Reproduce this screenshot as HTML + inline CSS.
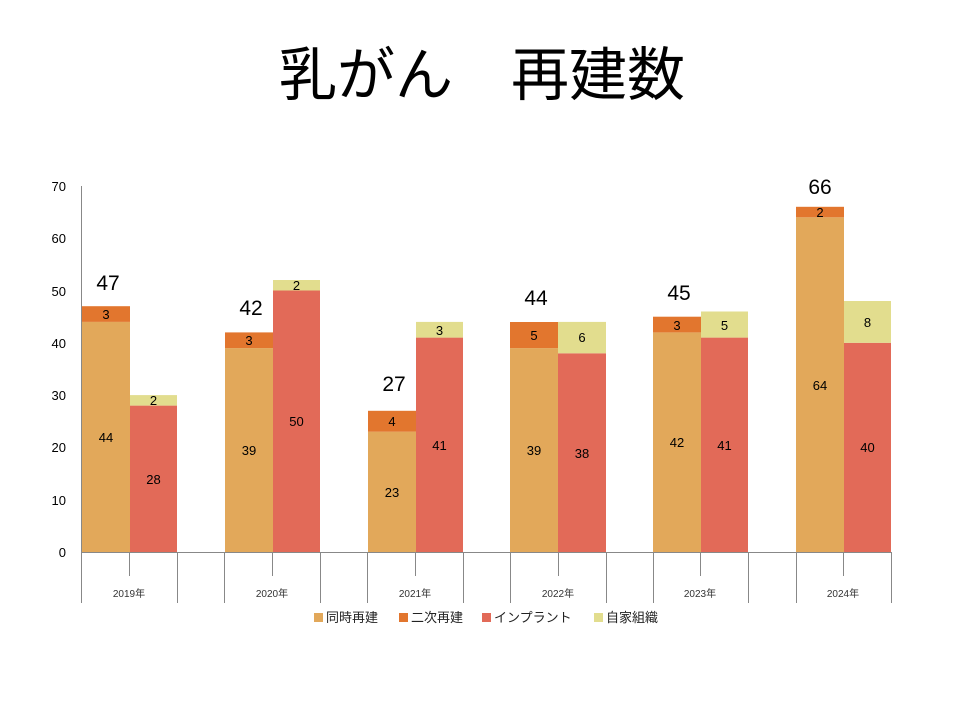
<!DOCTYPE html>
<html><head><meta charset="utf-8"><style>body{margin:0;background:#fff}svg{display:block}text{font-family:"Liberation Sans","Noto Sans CJK JP",sans-serif}</style></head><body>
<svg width="960" height="720" viewBox="0 0 960 720" xmlns="http://www.w3.org/2000/svg">
<text x="482" y="95" font-size="58" text-anchor="middle" fill="#000">乳がん　再建数</text>
<g font-size="13" text-anchor="end" fill="#000">
<text x="66" y="557">0</text><text x="66" y="505">10</text><text x="66" y="452">20</text><text x="66" y="400">30</text><text x="66" y="348">40</text><text x="66" y="296">50</text><text x="66" y="243">60</text><text x="66" y="191">70</text>
</g>
<g>
<rect x="82" y="321.9" width="48" height="230.1" fill="#E2A85A"/><rect x="82" y="306.2" width="48" height="15.7" fill="#E2762E"/>
<rect x="130" y="405.6" width="47" height="146.4" fill="#E26A58"/><rect x="130" y="395.1" width="47" height="10.5" fill="#E2DD8E"/>
<rect x="225" y="348.1" width="48" height="203.9" fill="#E2A85A"/><rect x="225" y="332.4" width="48" height="15.7" fill="#E2762E"/>
<rect x="273" y="290.5" width="47" height="261.5" fill="#E26A58"/><rect x="273" y="280" width="47" height="10.5" fill="#E2DD8E"/>
<rect x="368" y="431.7" width="48" height="120.3" fill="#E2A85A"/><rect x="368" y="410.8" width="48" height="20.9" fill="#E2762E"/>
<rect x="416" y="337.6" width="47" height="214.4" fill="#E26A58"/><rect x="416" y="321.9" width="47" height="15.7" fill="#E2DD8E"/>
<rect x="510" y="348.1" width="48" height="203.9" fill="#E2A85A"/><rect x="510" y="322" width="48" height="26.1" fill="#E2762E"/>
<rect x="558" y="353.3" width="48" height="198.7" fill="#E26A58"/><rect x="558" y="321.9" width="48" height="31.4" fill="#E2DD8E"/>
<rect x="653" y="332.4" width="48" height="219.6" fill="#E2A85A"/><rect x="653" y="316.7" width="48" height="15.7" fill="#E2762E"/>
<rect x="701" y="337.6" width="47" height="214.4" fill="#E26A58"/><rect x="701" y="311.5" width="47" height="26.1" fill="#E2DD8E"/>
<rect x="796" y="217.3" width="48" height="334.7" fill="#E2A85A"/><rect x="796" y="206.8" width="48" height="10.5" fill="#E2762E"/>
<rect x="844" y="342.8" width="47" height="209.2" fill="#E26A58"/><rect x="844" y="301" width="47" height="41.8" fill="#E2DD8E"/>
</g>
<g font-size="13" text-anchor="middle" fill="#000">
<text x="106" y="442">44</text><text x="106" y="319">3</text><text x="153.5" y="484">28</text><text x="153.5" y="405">2</text>
<text x="249" y="455">39</text><text x="249" y="345">3</text><text x="296.5" y="426">50</text><text x="296.5" y="290">2</text>
<text x="392" y="497">23</text><text x="392" y="426">4</text><text x="439.5" y="450">41</text><text x="439.5" y="335">3</text>
<text x="534" y="455">39</text><text x="534" y="340">5</text><text x="582" y="458">38</text><text x="582" y="342">6</text>
<text x="677" y="447">42</text><text x="677" y="330">3</text><text x="724.5" y="450">41</text><text x="724.5" y="330">5</text>
<text x="820" y="390">64</text><text x="820" y="217">2</text><text x="867.5" y="452">40</text><text x="867.5" y="327">8</text>
</g>
<g font-size="21" text-anchor="middle" fill="#000">
<text x="108" y="290">47</text><text x="251" y="315">42</text><text x="394" y="391">27</text><text x="536" y="305">44</text><text x="679" y="300">45</text><text x="820" y="194">66</text>
</g>
<g stroke="#888" stroke-width="1">
<line x1="81.5" y1="186" x2="81.5" y2="603"/>
<line x1="81" y1="552.5" x2="891" y2="552.5"/>
<line x1="177.5" y1="552" x2="177.5" y2="603"/><line x1="224.5" y1="552" x2="224.5" y2="603"/>
<line x1="320.5" y1="552" x2="320.5" y2="603"/><line x1="367.5" y1="552" x2="367.5" y2="603"/>
<line x1="463.5" y1="552" x2="463.5" y2="603"/><line x1="510.5" y1="552" x2="510.5" y2="603"/>
<line x1="606.5" y1="552" x2="606.5" y2="603"/><line x1="653.5" y1="552" x2="653.5" y2="603"/>
<line x1="748.5" y1="552" x2="748.5" y2="603"/><line x1="796.5" y1="552" x2="796.5" y2="603"/>
<line x1="891.5" y1="552" x2="891.5" y2="603"/>
<line x1="129.5" y1="552" x2="129.5" y2="576"/><line x1="272.5" y1="552" x2="272.5" y2="576"/>
<line x1="415.5" y1="552" x2="415.5" y2="576"/><line x1="558.5" y1="552" x2="558.5" y2="576"/>
<line x1="700.5" y1="552" x2="700.5" y2="576"/><line x1="843.5" y1="552" x2="843.5" y2="576"/>
</g>
<g font-size="10" text-anchor="middle" fill="#333">
<text x="129" y="597">2019年</text><text x="272" y="597">2020年</text><text x="415" y="597">2021年</text><text x="558" y="597">2022年</text><text x="700" y="597">2023年</text><text x="843" y="597">2024年</text>
</g>
<g font-size="13" fill="#222">
<rect x="314" y="613" width="9" height="9" fill="#E2A85A"/><text x="326" y="622">同時再建</text>
<rect x="399" y="613" width="9" height="9" fill="#E2762E"/><text x="411" y="622">二次再建</text>
<rect x="482" y="613" width="9" height="9" fill="#E26A58"/><text x="494" y="622">インプラント</text>
<rect x="594" y="613" width="9" height="9" fill="#E2DD8E"/><text x="606" y="622">自家組織</text>
</g>
</svg>
</body></html>
